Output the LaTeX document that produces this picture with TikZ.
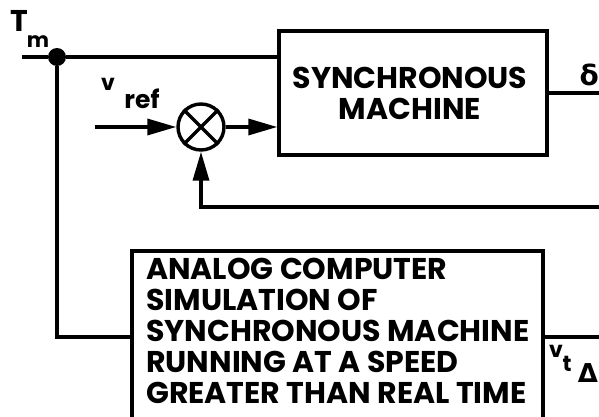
\documentclass[tikz,border=0pt]{standalone}
\usepackage{fontspec}
\setmainfont{Poppins}
\newfontfamily\greekfont{DejaVu Sans}
\usetikzlibrary{arrows.meta}
\tikzset{
  wire/.style={line width=3.4pt},
  blockbox/.style={draw, line width=3.4pt, inner sep=0pt},
  blocktext/.style={font=\fontsize{30}{31}\selectfont\bfseries, inner sep=0pt},
  lbl/.style={inner sep=0pt, font=\bfseries},
  arr/.style={wire, -{Triangle[length=29pt, width=16pt]}},
}
\begin{document}
\begin{tikzpicture}[x=1pt, y=-1pt]
\useasboundingbox (0,0) rectangle (599,417);
\clip (0,0) rectangle (599,417);
% blocks
\node[blockbox, minimum width=268pt, minimum height=124pt] (sm) at (413,93) {};
\node[blocktext, align=center] (smtext) at (410,93) {SYNCHRONOUS\\MACHINE};
\node[blockbox, minimum width=411pt, minimum height=172pt] (an) at (337.5,337) {};
\node[blocktext, align=left, anchor=north west] (antext) at (146,258) {ANALOG COMPUTER\\SIMULATION OF\\SYNCHRONOUS MACHINE\\RUNNING AT A SPEED\\GREATER THAN REAL TIME};
% summer
\node[circle, draw, wire, minimum size=46pt, inner sep=0pt] (sum) at (201,127) {};
\draw[wire] (sum.north west) -- (sum.south east);
\draw[wire] (sum.north east) -- (sum.south west);
% junction
\node[circle, fill, minimum size=18pt, inner sep=0pt] (j) at (57,57) {};
\coordinate (tmin) at (22,57);
\coordinate (vin) at (95,127);
\coordinate (fb) at (605,207);
\coordinate (dout) at (605,93);
\coordinate (vout) at (605,337);
% connectors
\draw[wire] (tmin) -- (j) -- (j -| sm.west);
\draw[wire] (j) -- (j |- an.west) -- (an.west);
\draw[arr] (vin) -- (sum.west);
\draw[arr] (sum.east) -- (sum -| sm.west);
\draw[arr] (fb) -- (sum |- fb) -- (sum.south);
\draw[wire] (sm.east) -- (dout);
\draw[wire] (an.east) -- (vout);
% labels
\node[lbl, font=\fontsize{30}{30}\selectfont\bfseries] (tT) at (19,21) {T};
\node[lbl, font=\fontsize{21}{21}\selectfont\bfseries] (tm) at (38,42) {m};
\node[lbl, font=\fontsize{22}{22}\selectfont\bfseries] (vv) at (108,84) {v};
\node[lbl, font=\fontsize{25}{25}\selectfont\bfseries] (vref) at (142,99) {ref};
\node[lbl, font=\fontsize{28}{28}\selectfont\greekfont\bfseries, anchor=east] (del) at (599,75) {δ};
\node[lbl, font=\fontsize{22}{22}\selectfont\bfseries] (tv) at (556,351) {v};
\node[lbl, font=\fontsize{22}{22}\selectfont\bfseries] (tt) at (567,364) {t};
\node[lbl, font=\fontsize{26}{26}\selectfont\greekfont\bfseries] (tD) at (588,373) {Δ};
\end{tikzpicture}
\end{document}
